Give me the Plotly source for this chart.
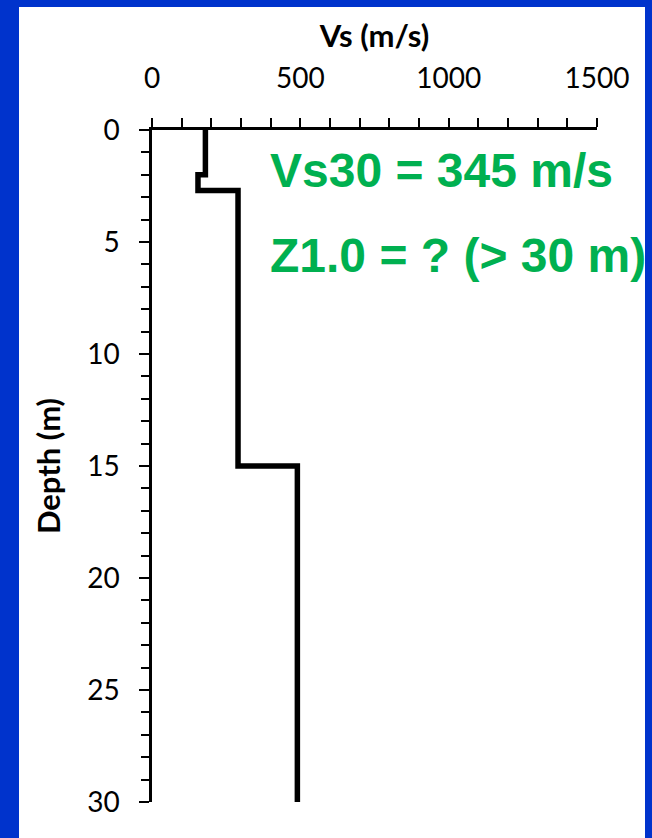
import plotly.graph_objects as go

# Shear-wave velocity profile: layer boundaries (m) and layer velocities (m/s)
layer_top = [0.0, 2.0, 2.7, 15.0]
layer_bottom = [2.0, 2.7, 15.0, 30.0]
layer_vs = [180, 155, 290, 490]

x_ticks = [0, 500, 1000, 1500]
y_ticks = [0, 5, 10, 15, 20, 25, 30]

label_vs30 = "Vs30 = 345 m/s"
label_z10 = "Z1.0 = ? (> 30 m)"

# Build the stair-step profile from the layer table
prof_x, prof_y = [], []
for top, bot, vs in zip(layer_top, layer_bottom, layer_vs):
    prof_x += [vs, vs]
    prof_y += [top, bot]

W, H = 652, 838
L, R, T, B = 152, 55, 130, 36
pw, ph = W - L - R, H - T - B


def px_to_paper_x(px):
    return (px - L) / pw


def px_to_paper_y(py):
    return (H - B - py) / ph


tick_font = dict(family="Lato, 'Open Sans', sans-serif", size=28, color="black")
title_font = dict(family="Lato, 'Open Sans', sans-serif", size=31, color="black")
green = "#00B050"

fig = go.Figure()
fig.add_trace(go.Scatter(
    x=prof_x, y=prof_y, mode="lines",
    line=dict(color="black", width=5.5),
    hoverinfo="skip", showlegend=False,
))

fig.update_layout(
    width=W, height=H,
    margin=dict(l=L, r=R, t=T, b=B, autoexpand=False),
    paper_bgcolor="#0033CC",
    plot_bgcolor="rgba(0,0,0,0)",
    showlegend=False,
    shapes=[dict(
        type="rect", xref="paper", yref="paper", layer="below",
        x0=px_to_paper_x(19), x1=px_to_paper_x(645),
        y0=px_to_paper_y(H + 5), y1=px_to_paper_y(7),
        fillcolor="white", line=dict(width=0),
    )],
    xaxis=dict(
        side="top", range=[0, 1500], tickmode="array", tickvals=x_ticks,
        ticks="outside", ticklen=9, tickwidth=2, tickcolor="black",
        minor=dict(dtick=100, ticks="outside", ticklen=9, tickwidth=2, tickcolor="black"),
        showline=True, linecolor="black", linewidth=2.5,
        showgrid=False, zeroline=False, tickfont=tick_font,
        ticklabelstandoff=19, automargin=False,
        title=dict(text="<b>Vs (m/s)</b>", font=title_font, standoff=4),
    ),
    yaxis=dict(
        range=[30, 0], tickmode="array", tickvals=y_ticks,
        ticks="outside", ticklen=10, tickwidth=2, tickcolor="black",
        minor=dict(dtick=1, ticks="outside", ticklen=8, tickwidth=2, tickcolor="black"),
        showline=True, linecolor="black", linewidth=2.5,
        showgrid=False, zeroline=False, tickfont=tick_font,
        ticklabelstandoff=14, automargin=False,
        title=dict(text="<b>Depth (m)</b>", font=title_font, standoff=18),
    ),
)

ann_font = dict(family="'Liberation Sans', Arial, sans-serif", size=48, color=green)
fig.add_annotation(
    text="<b>" + label_vs30 + "</b>", xref="paper", yref="paper",
    x=px_to_paper_x(268), y=px_to_paper_y(170), xanchor="left", yanchor="middle",
    showarrow=False, font=ann_font,
)
fig.add_annotation(
    text="<b>" + label_z10 + "</b>", xref="paper", yref="paper",
    x=px_to_paper_x(268), y=px_to_paper_y(255), xanchor="left", yanchor="middle",
    showarrow=False, font=ann_font,
)

fig.write_html("out.html")
